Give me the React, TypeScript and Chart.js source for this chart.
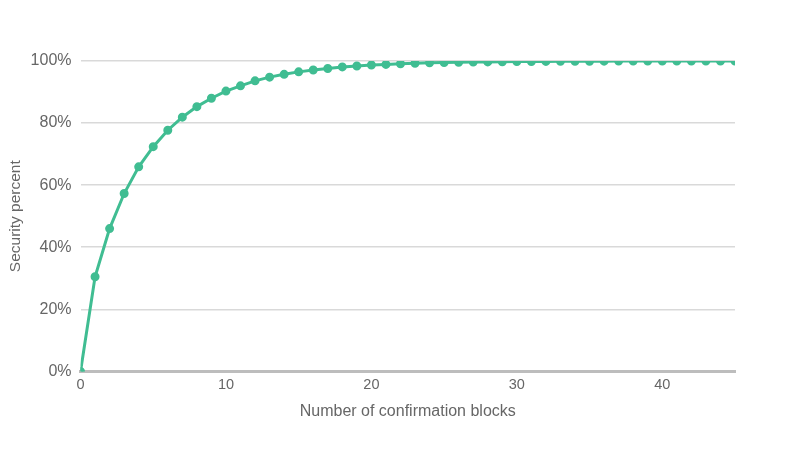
import React, { useEffect, useRef } from "react";
import { Chart, registerables } from "chart.js";

Chart.register(...registerables);

const blocks: number[] = Array.from({ length: 46 }, (_, i) => i);
const securityPercent: number[] = [
  0, 30.5, 46, 57.3, 65.9, 72.4, 77.7, 81.9, 85.3, 88,
  90.3, 92, 93.6, 94.8, 95.7, 96.5, 97.1, 97.6, 98.1, 98.4,
  98.7, 98.9, 99.1, 99.25, 99.4, 99.5, 99.6, 99.65, 99.7, 99.75,
  99.8, 99.85, 99.87, 99.9, 99.92, 99.93, 99.95, 99.96, 99.97, 99.97,
  99.98, 99.98, 99.99, 99.99, 99.99, 99.99,
];
const xTickValues: number[] = [0, 10, 20, 30, 40];
const xTitle = "Number of confirmation blocks";
const yTitle = "Security percent";

export default function App() {
  const ref = useRef<HTMLCanvasElement | null>(null);
  useEffect(() => {
    if (!ref.current) return;
    const family = "'Liberation Sans', Arial, sans-serif";
    const chart = new Chart(ref.current, {
      type: "line",
      data: {
        datasets: [
          {
            data: blocks.map((b, i) => ({ x: b, y: securityPercent[i] })),
            borderColor: "#40bd92",
            backgroundColor: "#40bd92",
            borderWidth: 3,
            pointRadius: 3,
            pointHoverRadius: 3,
            tension: 0,
            fill: false,
          },
        ],
      },
      options: {
        animation: false,
        responsive: false,
        maintainAspectRatio: false,
        layout: { padding: { left: 6, right: 65, top: 61, bottom: 25 } },
        plugins: { legend: { display: false }, tooltip: { enabled: false } },
        scales: {
          x: {
            type: "linear",
            min: 0,
            max: 45,
            grid: { display: false },
            border: { display: true, color: "#bdbdbd", width: 3 },
            afterBuildTicks: (axis: any) => {
              axis.ticks = xTickValues.map((v) => ({ value: v }));
            },
            ticks: { color: "#666", font: { family, size: 14.5 }, padding: -3 },
            title: { display: true, text: xTitle, color: "#666", font: { family, size: 16 }, padding: { top: 11 } },
          },
          y: {
            min: 0,
            max: 100,
            grid: { color: "#d9d9d9", lineWidth: 1.5, drawTicks: false },
            border: { display: false },
            ticks: { stepSize: 20, color: "#666", font: { family, size: 16 }, padding: 9, callback: (v: any) => v + "%" },
            title: { display: true, text: yTitle, color: "#666", font: { family, size: 15.5 }, padding: { top: 0, bottom: -3 } },
          },
        },
      },
    });
    return () => chart.destroy();
  }, []);
  return (
    <div style={{ position: "absolute", left: 0, top: 0, width: 800, height: 450 }}>
      <canvas ref={ref} width={800} height={450} style={{ width: 800, height: 450 }} />
    </div>
  );
}
